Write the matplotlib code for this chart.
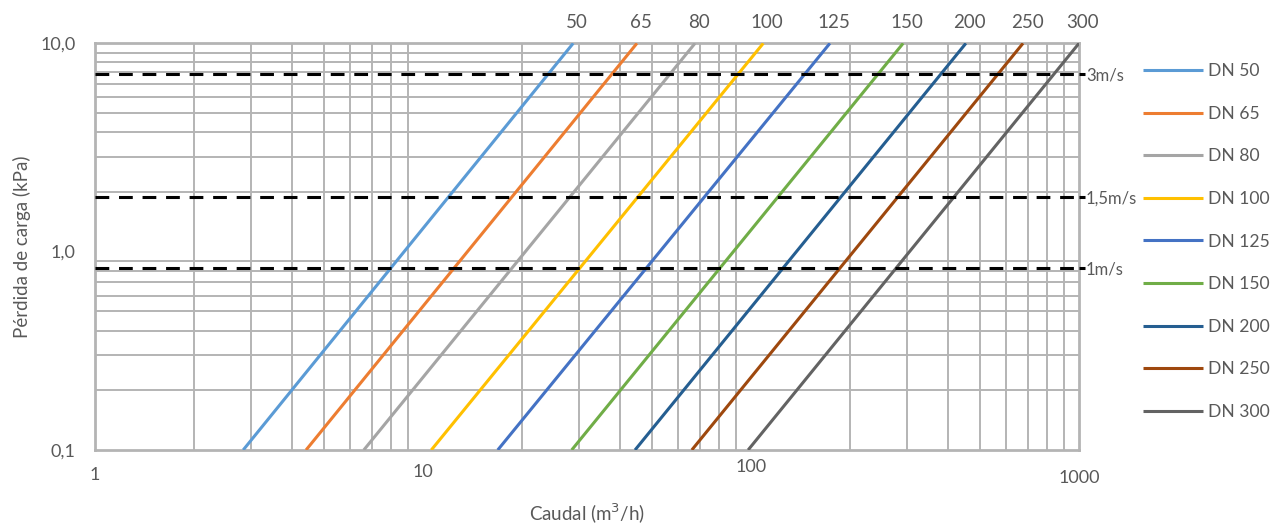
import matplotlib
matplotlib.use("Agg")
import matplotlib.pyplot as plt
import matplotlib.transforms as mtransforms
from matplotlib.ticker import FixedLocator, NullFormatter
import numpy as np

plt.rcParams["font.family"] = ["Lato", "DejaVu Sans"]

# series: flow (m3/h) at the bottom (0.1 kPa) and top (~11.2 kPa) of the chart
dn_labels = ["50", "65", "80", "100", "125", "150", "200", "250", "300"]
loss_ends = [0.1, 11.2]
flow_low = [2.83, 4.4, 6.6, 10.6, 16.9, 28.4, 44.3, 66.0, 98.0]
flow_high = [28.7, 44.9, 67.5, 109.0, 174.0, 291.0, 452.0, 675.0, 1000.0]
colors = ["#5B9BD5", "#ED7D31", "#A5A5A5", "#FFC000", "#4472C4",
          "#70AD47", "#255E91", "#9E480E", "#636363"]

# velocity reference lines (kPa)
vel_loss = [7.8, 1.89, 0.83]
vel_labels = ["3m/s", "1,5m/s", "1m/s"]

x_ticks = [1, 10, 100, 1000]
x_ticklabels = ["1", "10", "100", "1000"]
y_ticks = [0.1, 1.0, 11.2]
y_ticklabels = ["0,1", "1,0", "10,0"]

grid_c = "#B4B4B4"
text_c = "#595959"

fig = plt.figure(figsize=(12.71, 5.25), dpi=100)
ax = fig.add_axes([0.07474, 0.142857, 0.7742, 0.77466])
ax.set_xscale("log")
ax.set_yscale("log")
ax.set_xlim(1, 1000)
ax.set_ylim(0.1, 11.2)

minor_x = [k * 10.0 ** e for e in range(0, 3) for k in range(1, 10)] + [1000]
minor_y = [k * 10.0 ** e for e in range(-1, 2) for k in range(1, 10)]
ax.xaxis.set_minor_locator(FixedLocator(minor_x))
ax.yaxis.set_minor_locator(FixedLocator(minor_y))
ax.xaxis.set_minor_formatter(NullFormatter())
ax.yaxis.set_minor_formatter(NullFormatter())
ax.grid(which="minor", color=grid_c, lw=1.4, zorder=0)
ax.grid(which="major", visible=False)
ax.set_axisbelow(True)

ax.set_xticks(x_ticks)
ax.set_xticklabels(x_ticklabels)
ax.set_yticks(y_ticks)
ax.set_yticklabels(y_ticklabels)
ax.tick_params(which="both", length=0)
ax.tick_params(axis="x", pad=12, labelsize=13, labelcolor=text_c)
ax.tick_params(axis="y", pad=14, labelsize=13, labelcolor=text_c)

# Excel placed the x labels at slightly different heights
x_dy = [0, 3, 8, -3.5]
for lab, dy in zip(ax.get_xticklabels(), x_dy):
    off = mtransforms.ScaledTranslation(0, dy / 100, fig.dpi_scale_trans)
    lab.set_transform(lab.get_transform() + off)

for sp in ax.spines.values():
    sp.set_color(grid_c)
    sp.set_linewidth(2)

for lab, ql, qh, c in zip(dn_labels, flow_low, flow_high, colors):
    ax.plot([ql, qh], loss_ends, color=c, lw=2.2, label="DN " + lab,
            solid_capstyle="butt", zorder=3)
    ax.annotate(lab, (qh, loss_ends[1]), xytext=(4, 21),
                textcoords="offset pixels", ha="center", va="center",
                fontsize=13.5, color=text_c, annotation_clip=False)

for v in vel_loss:
    ax.axhline(v, color="black", lw=2.2, dashes=(4.5, 3.2), zorder=4)

ax2 = ax.twinx()
ax2.set_yscale("log")
ax2.set_ylim(ax.get_ylim())
ax2.yaxis.set_major_locator(FixedLocator(vel_loss))
ax2.yaxis.set_minor_locator(FixedLocator([]))
ax2.set_yticklabels(vel_labels)
ax2.tick_params(axis="y", length=4, width=2.2, color="black", pad=1,
                labelsize=12, labelcolor=text_c)
for sp in ax2.spines.values():
    sp.set_visible(False)

ax.set_xlabel("Caudal (m$^3$/h)", fontsize=13.5, color=text_c)
ax.set_ylabel("Pérdida de carga (kPa)", fontsize=13.5, color=text_c)
ax.xaxis.set_label_coords(0.5, -0.128)
ax.yaxis.set_label_coords(-0.065, 0.5)

leg = ax.legend(loc="upper left", bbox_to_anchor=(0.894, 0.893),
                bbox_transform=fig.transFigure, frameon=False,
                fontsize=12.6, handlelength=3.4, handletextpad=0.28,
                labelspacing=1.52, borderaxespad=0)
for t in leg.get_texts():
    t.set_color(text_c)

fig.savefig("out.png", dpi=100)
